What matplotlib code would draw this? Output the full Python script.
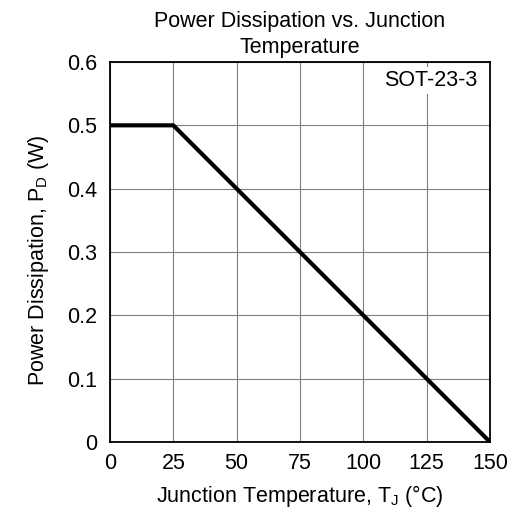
import numpy as np
import matplotlib.pyplot as plt

plt.rcParams['font.family'] = ['Liberation Sans', 'DejaVu Sans']
plt.rcParams['mathtext.fontset'] = 'custom'
plt.rcParams['mathtext.rm'] = 'Liberation Sans'

# derating curve
temp = [0, 25, 150]
power = [0.5, 0.5, 0.0]

x_ticks = [0, 25, 50, 75, 100, 125, 150]
y_ticks = [0, 0.1, 0.2, 0.3, 0.4, 0.5, 0.6]
y_labels = ['0', '0.1', '0.2', '0.3', '0.4', '0.5', '0.6']

W, H = 510, 509
fig = plt.figure(figsize=(W / 100, H / 100), dpi=100)
ax = fig.add_axes([110 / W, 1 - 442 / H, 380 / W, 380 / H])

ax.plot(temp, power, color='black', lw=3.0, solid_capstyle='butt', zorder=3)

ax.set_xlim(0, 150)
ax.set_ylim(0, 0.6)
ax.set_xticks(x_ticks)
ax.set_yticks(y_ticks)
ax.set_yticklabels(y_labels)
ax.tick_params(length=0, labelsize=15.5)
ax.tick_params(axis='x', pad=8)
ax.tick_params(axis='y', pad=9)
ax.grid(True, color='#7f7f7f', lw=0.8)
ax.set_axisbelow(True)
for s in ax.spines.values():
    s.set_linewidth(1.3)

ax.text(0.966, 0.951, 'SOT-23-3', transform=ax.transAxes, ha='right', va='center',
        fontsize=15.5, bbox=dict(facecolor='white', edgecolor='none', pad=2), zorder=4)

fig.text(300 / W, 1 - 27 / H, 'Power Dissipation vs. Junction', ha='center', va='baseline', fontsize=15.5)
fig.text(300 / W, 1 - 53 / H, 'Temperature', ha='center', va='baseline', fontsize=15.5)

fig.text(300 / W, 1 - 502 / H, 'Junction Temperature, T$_\\mathregular{J}$ (°C)',
         ha='center', va='baseline', fontsize=15.5)
fig.text(39 / W, 1 - 260 / H, 'Power Dissipation, P$_\\mathregular{D}$ (W)',
         ha='center', va='center', rotation=90, fontsize=15.5)

fig.savefig('out.png', dpi=100)
